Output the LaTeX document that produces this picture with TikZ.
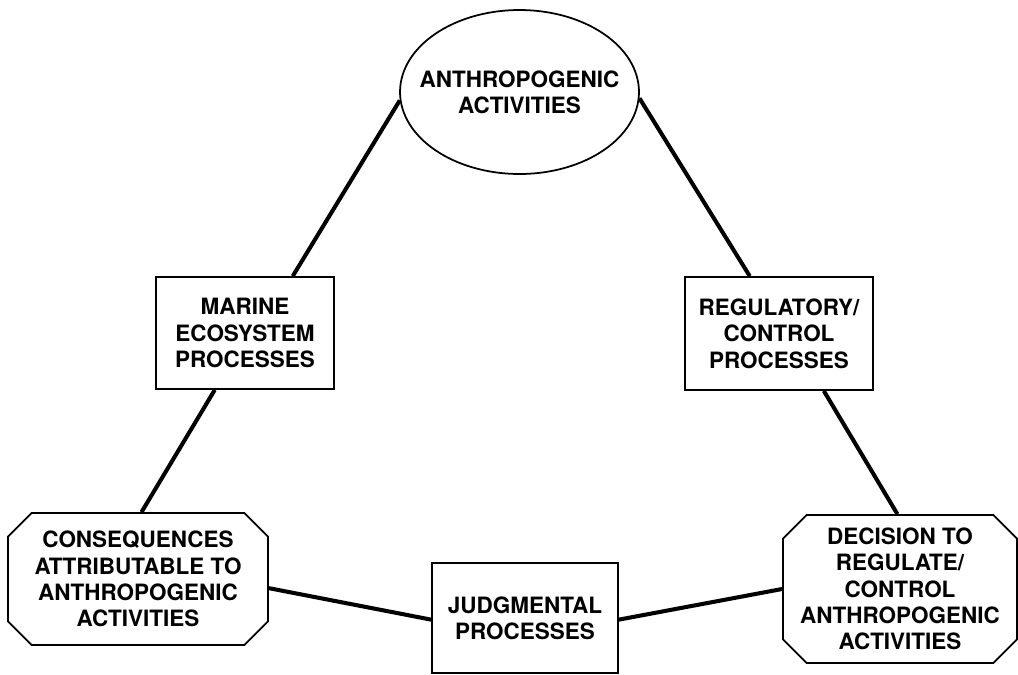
\documentclass[tikz,border=0pt]{standalone}
\usepackage{fontspec}
\setmainfont{TeX Gyre Heros}
\usetikzlibrary{shapes.geometric, shapes.misc}

\tikzset{
    label text/.style={font=\bfseries\fontsize{12.8}{15}\selectfont, align=center, text=black},
    oval/.style={draw, ellipse, line width=1pt, inner xsep=-0.4cm, inner ysep=0pt, label text},
    box/.style={draw, rectangle, line width=1pt, inner sep=0pt, label text},
    octo/.style={draw, chamfered rectangle, chamfered rectangle xsep=0.25cm,
        chamfered rectangle ysep=0.22cm, line width=1pt, inner sep=0pt, label text},
    link/.style={line width=2.3pt}
}

\begin{document}
\begin{tikzpicture}[x=0.02cm, y=-0.02cm]
    % frame
    \useasboundingbox (0,0) rectangle (1018,674);
    % top
    \node[oval, minimum width=4.78cm, minimum height=3.28cm] (ant) at (519.5,92)
        {ANTHROPOGENIC\\ACTIVITIES};
    % middle
    \node[box, minimum width=3.56cm, minimum height=2.24cm] (mar) at (245,333)
        {MARINE\\ECOSYSTEM\\PROCESSES};
    \node[box, minimum width=3.76cm, minimum height=2.26cm] (reg) at (779,333.5)
        {REGULATORY/\\CONTROL\\PROCESSES};
    % bottom
    \node[octo, minimum width=5.2cm, minimum height=2.64cm] (con) at (138,579)
        {CONSEQUENCES\\ATTRIBUTABLE TO\\ANTHROPOGENIC\\ACTIVITIES};
    \node[box, minimum width=3.72cm, minimum height=2.2cm] (jud) at (525,618)
        {JUDGMENTAL\\PROCESSES};
    \node[octo, minimum width=4.68cm, minimum height=2.96cm] (dec) at (900,589)
        {DECISION TO\\REGULATE/\\CONTROL\\ANTHROPOGENIC\\ACTIVITIES};
    % links
    \draw[link] (ant.184) -- (mar.50);
    \draw[link] (ant.-3) -- (reg.117);
    \draw[link] (mar.242) -- (con.87);
    \draw[link] (reg.-52) -- (dec.92);
    \draw[link] (con.-4) -- (jud.181);
    \draw[link] (jud.-1) -- (dec.180);
\end{tikzpicture}
\end{document}
